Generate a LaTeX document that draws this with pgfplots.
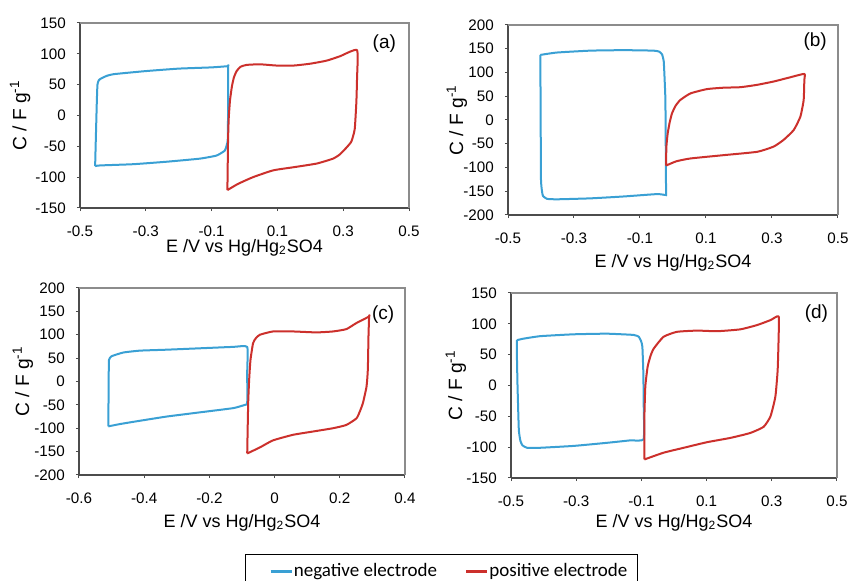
\documentclass[border=0pt]{standalone}
\usepackage{pgfplots}
\pgfplotsset{compat=1.18}
\usepackage{fontspec}
\setmainfont{Liberation Sans}
\newfontfamily\carlito{Carlito}
\definecolor{negblue}{RGB}{58,160,212}
\definecolor{posred}{RGB}{204,48,44}
\pgfplotsset{
  cvaxis/.style={
    scale only axis, anchor=south west,
    axis x line*=bottom, axis y line*=left,
    axis line style={draw=black!70, line width=0.6pt},
    tick align=outside, major tick length=1.6pt,
    tick style={black!70, line width=0.5pt},
    ticklabel style={font=\fontsize{7.6}{9}\selectfont},
    xticklabel style={yshift=-4pt},
    yticklabel style={xshift=-2pt},
    xlabel style={font=\fontsize{9}{10}\selectfont},
    ylabel style={font=\fontsize{9.6}{10}\selectfont},
    xlabel={E /V vs Hg/Hg\textsubscript{2}SO4},
    ylabel={C / F g\textsuperscript{-1}},
    clip=false,
    after end axis/.code={\draw[black!45, line width=0.6pt] (rel axis cs:0,1) -- (rel axis cs:1,1) -- (rel axis cs:1,0);},
  },
  negl/.style={color=negblue, line width=1pt, line join=round, smooth, tension=0.25},
  posl/.style={color=posred, line width=1pt, line join=round, smooth, tension=0.3},
}
\begin{document}
\begin{tikzpicture}
\useasboundingbox (0,0) rectangle (424pt,290.5pt);
\fill[white] (0,0) rectangle (424pt,290.5pt);
% (a)
\begin{axis}[cvaxis, at={(40pt,186.5pt)}, width=164.5pt, height=92.5pt,
  xmin=-0.5, xmax=0.5, ymin=-150, ymax=150,
  xtick={-0.5,-0.3,-0.1,0.1,0.3,0.5}, xticklabels={-0.5,-0.3,-0.1,0.1,0.3,0.5},
  ytick={-150,-100,-50,0,50,100,150}, yticklabels={-150,-100,-50,0,50,100,150},
  xlabel style={at={(axis description cs:0.5,-0.215)}, anchor=center},
  ylabel style={at={(axis description cs:-0.182,0.5)}, anchor=center}]
\addplot[negl] coordinates {(-0.454,-82) (-0.452,-40) (-0.449,20) (-0.447,50) (-0.443,57) (-0.439,59) (-0.42,64) (-0.398,67) (-0.3,72) (-0.2,76) (-0.1,78) (-0.05,80) (-0.05,81) (-0.05,40) (-0.05,0) (-0.051,-40) (-0.054,-48) (-0.06,-57) (-0.085,-65) (-0.136,-70) (-0.237,-75) (-0.338,-79) (-0.439,-81) (-0.454,-82)};
\addplot[posl] coordinates {(-0.052,-121) (-0.051,-80) (-0.05,-40) (-0.048,-5) (-0.044,25) (-0.038,48) (-0.032,62) (-0.024,72) (-0.012,79) (0.006,82) (0.047,83) (0.097,81) (0.15,81) (0.2,84) (0.25,89) (0.29,96) (0.342,106) (0.342,60) (0.34,22) (0.335,-22) (0.325,-42) (0.31,-52) (0.29,-63) (0.269,-70) (0.219,-78) (0.148,-84) (0.087,-89) (0.026,-100) (-0.02,-111) (-0.052,-121)};
\node[font=\fontsize{9.5}{11}\selectfont] at (axis cs:0.425,117) {(a)};
\end{axis}
% (b)
\begin{axis}[cvaxis, at={(254pt,183pt)}, width=165pt, height=95pt,
  xmin=-0.5, xmax=0.5, ymin=-200, ymax=200,
  xtick={-0.5,-0.3,-0.1,0.1,0.3,0.5}, xticklabels={-0.5,-0.3,-0.1,0.1,0.3,0.5},
  ytick={-200,-150,-100,-50,0,50,100,150,200}, yticklabels={-200,-150,-100,-50,0,50,100,150,200},
  xlabel style={at={(axis description cs:0.5,-0.25)}, anchor=center},
  ylabel style={at={(axis description cs:-0.155,0.5)}, anchor=center}]
\addplot[negl] coordinates {(-0.402,137) (-0.352,142) (-0.25,146) (-0.149,147) (-0.059,146) (-0.042,144) (-0.033,138) (-0.028,123) (-0.025,80) (-0.023,42) (-0.022,-50) (-0.021,-154) (-0.021,-158) (-0.048,-156) (-0.149,-161) (-0.25,-165) (-0.352,-167) (-0.382,-166) (-0.394,-160) (-0.397,-150) (-0.4,-126) (-0.401,0) (-0.402,137)};
\addplot[posl] coordinates {(-0.021,-96) (-0.02,-56) (-0.016,-28) (-0.01,-5) (-0.003,14) (0.008,30) (0.022,42) (0.053,56) (0.103,65) (0.154,68) (0.204,69) (0.255,74) (0.305,81) (0.356,90) (0.398,97) (0.398,84) (0.396,42) (0.386,7) (0.366,-21) (0.335,-42) (0.305,-56) (0.255,-67) (0.154,-74) (0.053,-81) (0.01,-87) (-0.021,-96)};
\node[font=\fontsize{9.5}{11}\selectfont] at (axis cs:0.431,165) {(b)};
\end{axis}
% (c)
\begin{axis}[cvaxis, at={(39.5pt,53pt)}, width=163pt, height=93.5pt,
  xmin=-0.6, xmax=0.4, ymin=-200, ymax=200,
  xtick={-0.6,-0.4,-0.2,0,0.2,0.4}, xticklabels={-0.6,-0.4,-0.2,0,0.2,0.4},
  ytick={-200,-150,-100,-50,0,50,100,150,200}, yticklabels={-200,-150,-100,-50,0,50,100,150,200},
  xlabel style={at={(axis description cs:0.5,-0.257)}, anchor=center},
  ylabel style={at={(axis description cs:-0.172,0.5)}, anchor=center},
  legend style={at={(axis description cs:0.509,-0.4225)}, anchor=north west,
    draw=black, line width=0.6pt, inner xsep=4.5pt, inner ysep=4pt,
    font=\carlito\fontsize{9.5}{11}\selectfont, legend columns=2,
    nodes={inner sep=0.5pt},
    /tikz/every even column/.append style={column sep=6pt}},
  legend image code/.code={\path[draw=none] (0pt,0pt) -- (8pt,0pt); \draw[#1, line width=1.4pt] (8pt,0pt) -- (18.5pt,0pt);}]
\addplot[negl] coordinates {(-0.51,-96) (-0.509,0) (-0.508,46) (-0.5,54) (-0.464,62) (-0.413,66) (-0.331,68) (-0.229,71) (-0.127,74) (-0.084,74) (-0.084,20) (-0.084,-46) (-0.091,-50) (-0.127,-57) (-0.229,-66) (-0.331,-75) (-0.413,-84) (-0.474,-91) (-0.51,-96)};
\addlegendentry{negative electrode}
\addplot[posl] coordinates {(-0.084,-154) (-0.081,-46) (-0.078,4) (-0.074,46) (-0.066,82) (-0.057,93) (-0.045,100) (-0.005,107) (0.057,107) (0.128,105) (0.179,107) (0.22,112) (0.251,125) (0.29,139) (0.29,141) (0.288,96) (0.286,25) (0.282,-11) (0.271,-46) (0.261,-65) (0.251,-79) (0.22,-93) (0.179,-100) (0.118,-107) (0.057,-114) (-0.005,-126) (-0.045,-141) (-0.084,-154)};
\addlegendentry{positive electrode}
\node[font=\fontsize{9.5}{11}\selectfont] at (axis cs:0.333,143) {(c)};
\end{axis}
% (d)
\begin{axis}[cvaxis, at={(255.5pt,51.5pt)}, width=163pt, height=92.5pt,
  xmin=-0.5, xmax=0.5, ymin=-150, ymax=150,
  xtick={-0.5,-0.3,-0.1,0.1,0.3,0.5}, xticklabels={-0.5,-0.3,-0.1,0.1,0.3,0.5},
  ytick={-150,-100,-50,0,50,100,150}, yticklabels={-150,-100,-50,0,50,100,150},
  xlabel style={at={(axis description cs:0.5,-0.243)}, anchor=center},
  ylabel style={at={(axis description cs:-0.169,0.5)}, anchor=center}]
\addplot[negl] coordinates {(-0.482,73.5) (-0.461,76) (-0.41,80) (-0.308,83) (-0.206,84) (-0.124,82) (-0.108,79) (-0.101,72) (-0.097,63) (-0.094,20) (-0.093,-29) (-0.093,-87) (-0.134,-89) (-0.206,-93) (-0.308,-98) (-0.41,-101) (-0.451,-101) (-0.465,-97) (-0.471,-90) (-0.476,-72) (-0.48,0) (-0.482,52) (-0.482,73.5)};
\addplot[posl] coordinates {(-0.091,-120) (-0.091,-56) (-0.088,-2) (-0.081,30) (-0.072,48) (-0.062,60) (-0.032,79) (0.009,87) (0.071,89) (0.132,88) (0.203,91) (0.255,98) (0.296,106) (0.321,112) (0.321,79) (0.318,25) (0.311,-18) (0.296,-50) (0.275,-67) (0.234,-77) (0.173,-85) (0.101,-92) (0.03,-101) (-0.032,-109) (-0.091,-120)};
\node[font=\fontsize{9.5}{11}\selectfont] at (axis cs:0.437,117) {(d)};
\end{axis}
\end{tikzpicture}
\end{document}
